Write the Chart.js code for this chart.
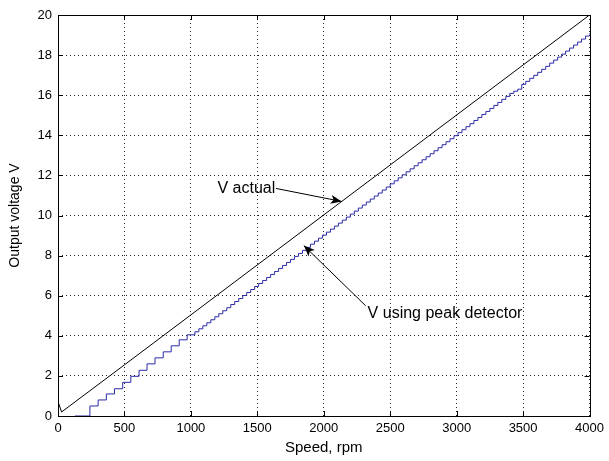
<!doctype html>
<html>
<head>
<script src="https://cdnjs.cloudflare.com/ajax/libs/Chart.js/4.4.0/chart.umd.min.js"></script>
<style>
  body { margin: 0; background: #fff; }
</style>
</head>
<body>
<canvas id="c1" width="609" height="461"></canvas>
<script>
// actual output voltage vs speed
const actualSpeed = [0, 27, 500, 4000];
const actualVolts = [0.72, 0.2, 2.55, 20];

// output of the peak detector: level reached at each speed (staircase)
const peakSpeed = [127, 240, 302, 364, 425, 487, 548, 610, 670, 730, 792, 852, 912, 972,
  1030, 1060, 1090, 1120, 1150, 1180, 1210, 1240, 1270, 1300, 1330, 1360, 1390, 1420,
  1450, 1480, 1510, 1540, 1570, 1600, 1630, 1660, 1690, 1720, 1750, 1780, 1810, 1840,
  1870, 1900, 1930, 1960, 1990, 2020, 2050, 2080, 2110, 2140, 2170, 2200, 2230, 2260,
  2290, 2320, 2350, 2380, 2410, 2440, 2470, 2500, 2530, 2560, 2590, 2620, 2650, 2680,
  2710, 2740, 2770, 2800, 2830, 2860, 2890, 2920, 2950, 2980, 3010, 3040, 3070, 3100,
  3130, 3160, 3190, 3220, 3250, 3280, 3310, 3340, 3370, 3400, 3430, 3460, 3490, 3520,
  3550, 3580, 3610, 3640, 3670, 3700, 3730, 3760, 3790, 3820, 3850, 3880, 3910, 3940,
  3970, 4000];
const peakVolts = [0, 0.5, 0.8, 1.1, 1.36, 1.68, 1.98, 2.28, 2.6, 2.9, 3.2, 3.5, 3.8, 4.05,
  4.2, 4.35, 4.5, 4.65, 4.8, 4.95, 5.1, 5.25, 5.4, 5.56, 5.71, 5.86, 6.01, 6.16,
  6.31, 6.46, 6.61, 6.76, 6.91, 7.06, 7.21, 7.36, 7.51, 7.66, 7.81, 7.96, 8.11, 8.26,
  8.41, 8.57, 8.72, 8.87, 9.02, 9.17, 9.32, 9.47, 9.62, 9.77, 9.92, 10.07, 10.22, 10.37,
  10.52, 10.67, 10.82, 10.97, 11.12, 11.27, 11.42, 11.58, 11.73, 11.88, 12.03, 12.18, 12.33, 12.48,
  12.63, 12.78, 12.93, 13.08, 13.23, 13.38, 13.53, 13.68, 13.83, 13.98, 14.13, 14.28, 14.43, 14.58,
  14.74, 14.89, 15.04, 15.19, 15.34, 15.49, 15.64, 15.79, 15.94, 16.09, 16.2, 16.3, 16.54, 16.69,
  16.84, 16.99, 17.14, 17.29, 17.44, 17.6, 17.75, 17.9, 18.05, 18.2, 18.35, 18.5, 18.65, 18.8,
  18.95, 19.1];

const speedTicks = [0, 500, 1000, 1500, 2000, 2500, 3000, 3500, 4000];
const voltTicks = [0, 2, 4, 6, 8, 10, 12, 14, 16, 18, 20];

const labelFont = '"Liberation Sans", Arial, sans-serif';

// text callouts with arrows, in data units
const notes = [
  { text: 'V actual', at: [1200, 11.35], from: [1640, 11.35], to: [2135, 10.7] },
  { text: 'V using peak detector', at: [2330, 5.1], from: [2315, 5.5], to: [1850, 8.5] }
];

function pairs(xs, ys) {
  return xs.map((x, i) => ({ x: x, y: ys[i] }));
}

// box around the axes with inward tick marks on all four sides
const boxPlugin = {
  id: 'box',
  afterDatasetsDraw(chart) {
    const ctx = chart.ctx, a = chart.chartArea;
    const xs = chart.scales.x, ys = chart.scales.y;
    const len = 5;
    ctx.save();
    ctx.strokeStyle = '#000';
    ctx.lineWidth = 1;
    ctx.beginPath();
    speedTicks.forEach(v => {
      const px = Math.round(xs.getPixelForValue(v)) + 0.5;
      ctx.moveTo(px, a.bottom); ctx.lineTo(px, a.bottom - len);
      ctx.moveTo(px, a.top); ctx.lineTo(px, a.top + len);
    });
    voltTicks.forEach(v => {
      const py = Math.round(ys.getPixelForValue(v)) + 0.5;
      ctx.moveTo(a.left, py); ctx.lineTo(a.left + len, py);
      ctx.moveTo(a.right, py); ctx.lineTo(a.right - len, py);
    });
    ctx.stroke();
    ctx.strokeRect(Math.round(a.left) + 0.5, Math.round(a.top) + 0.5,
      Math.round(a.right - a.left), Math.round(a.bottom - a.top));
    ctx.restore();
  }
};

const notePlugin = {
  id: 'notes',
  afterDraw(chart) {
    const ctx = chart.ctx;
    const xs = chart.scales.x, ys = chart.scales.y;
    const P = p => [xs.getPixelForValue(p[0]), ys.getPixelForValue(p[1])];
    ctx.save();
    ctx.fillStyle = '#000';
    ctx.strokeStyle = '#000';
    ctx.lineWidth = 1;
    ctx.font = '16px ' + labelFont;
    ctx.textBaseline = 'middle';
    ctx.textAlign = 'left';
    notes.forEach(n => {
      const t = P(n.at), f = P(n.from), e = P(n.to);
      ctx.fillText(n.text, t[0], t[1]);
      ctx.beginPath();
      ctx.moveTo(f[0], f[1]);
      ctx.lineTo(e[0], e[1]);
      ctx.stroke();
      // arrow head
      const ang = Math.atan2(e[1] - f[1], e[0] - f[0]);
      const L = 11, W = 4.5;
      const bx = e[0] - L * Math.cos(ang), by = e[1] - L * Math.sin(ang);
      const nx = e[0] - L * 0.75 * Math.cos(ang), ny = e[1] - L * 0.75 * Math.sin(ang);
      ctx.beginPath();
      ctx.moveTo(e[0], e[1]);
      ctx.lineTo(bx - W * Math.sin(ang), by + W * Math.cos(ang));
      ctx.lineTo(nx, ny);
      ctx.lineTo(bx + W * Math.sin(ang), by - W * Math.cos(ang));
      ctx.closePath();
      ctx.fill();
    });
    ctx.restore();
  }
};

new Chart(document.getElementById('c1'), {
  type: 'line',
  data: {
    datasets: [{
      label: 'V actual',
      data: pairs(actualSpeed, actualVolts),
      borderColor: '#000',
      borderWidth: 1,
      pointRadius: 0,
      tension: 0
    }, {
      label: 'V using peak detector',
      data: pairs(peakSpeed, peakVolts),
      borderColor: '#2a2aa8',
      borderWidth: 1,
      pointRadius: 0,
      stepped: 'before'
    }]
  },
  options: {
    responsive: false,
    animation: false,
    devicePixelRatio: 1,
    layout: { padding: { left: 0, top: 15, right: 17, bottom: 0 } },
    plugins: { legend: { display: false }, tooltip: { enabled: false } },
    scales: {
      x: {
        type: 'linear',
        min: 0, max: 4000,
        afterBuildTicks: s => { s.ticks = speedTicks.map(v => ({ value: v })); },
        afterFit: s => { s.height = 45; },
        ticks: {
          color: '#000', font: { family: labelFont, size: 13 }, padding: 5, maxRotation: 0,
          callback: v => String(v)
        },
        grid: { color: '#222', lineWidth: 1, drawTicks: false, borderDash: [1, 3] },
        border: { display: false, dash: [1, 3] },
        title: {
          display: true, text: 'Speed, rpm', color: '#000',
          font: { family: labelFont, size: 15, lineHeight: 1.2 },
          padding: { top: 0, bottom: 4 }
        }
      },
      y: {
        type: 'linear',
        min: 0, max: 20,
        afterBuildTicks: s => { s.ticks = voltTicks.map(v => ({ value: v })); },
        afterFit: s => { s.width = 58; },
        ticks: { color: '#000', font: { family: labelFont, size: 13 }, padding: 6, callback: v => String(v) },
        grid: { color: '#222', lineWidth: 1, drawTicks: false, borderDash: [1, 3] },
        border: { display: false, dash: [1, 3] },
        title: {
          display: true, text: 'Output voltage V', color: '#000',
          font: { family: labelFont, size: 14, lineHeight: 1.2 },
          padding: { top: 7, bottom: 0 }
        }
      }
    }
  },
  plugins: [boxPlugin, notePlugin]
});
</script>
</body>
</html>
